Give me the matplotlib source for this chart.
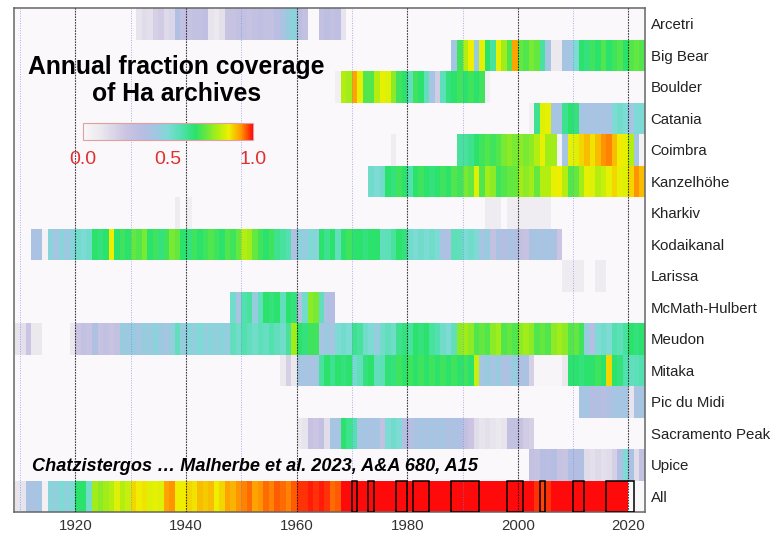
import numpy as np
import matplotlib
matplotlib.use("Agg")
import matplotlib.pyplot as plt
from matplotlib.colors import LinearSegmentedColormap
from matplotlib.patches import Rectangle

# ---- data: annual fraction coverage, each row given as (start year, values) segments
stations = ["Arcetri", "Big Bear", "Boulder", "Catania", "Coimbra", "Kanzelhöhe",
            "Kharkiv", "Kodaikanal", "Larissa", "McMath-Hulbert", "Meudon", "Mitaka",
            "Pic du Midi", "Sacramento Peak", "Upice", "All"]

arcetri = [(1931, [.12, .15, .14, .2, .22, .16, .18, .38, .3, .28, .3, .3, .32, .12, .1, .14,
                   .26, .28, .3, .3, .28, .3, .32, .3, .3, .34, .4, .45, .48, .34, .3, 0, 0,
                   .3, .33, .3, .32, .12])]
big_bear = [(1988, [.42, .68, .8, .86, .45, .85, .66, .6, .85, .78, .7, .92, .72, .7, .74, .72,
                    .6, .42, .1, .1, .42, .42, .5, .66, .64, .68, .66, .7, .66, .68, .7, .66,
                    .7, .72, .7])]
boulder = [(1967, [.06, .8, .78, .92, .85, .7, .7, .8, .85, .84, .76, .68, .66, .55, .68, .66,
                   .55, .42, .22, .56, .64, .66, .68, .66, .68, .66, .68, .05])]
catania = [(2002, [.06, .62, .84, .85, .42, .42, .62, .66, .64, .42, .42, .4, .42, .4, .42, .5,
                   .52, .5, .42, .5, .5])]
coimbra = [(1977, [.07]),
           (1989, [.6, .6, .62, .66, .68, .7, .68, .7, .74, .76, .74, .76, .74, .76, .8, .85,
                   .78, .78, .04, .42, .85, .84, .88, .9, .87, .9, .93, .94, .9, .86, .85, .8,
                   .42, .04])]
kanzelhoehe = [(1973, [.52, .5, .52, .66, .64, .68, .66, .58, .66, .68, .66, .64, .66, .68, .66,
                       .7, .68, .74, .72, .84, .7, .78, .76, .68, .7, .72, .72, .78, .76, .78,
                       .72, .8, .8, .85, .86, .8, .7, .72, .78, .85, .84, .8, .82, .85, .88,
                       .85, .84, .88, .93, .9])]
kharkiv = [(1938, [.08, 0, .06]),
           (1994, [.08, .08, .08, 0, .07, .07, .07, .07, .07, .07, .07, .07])]
kodaikanal = [(1912, [.4, .4, .04, .48, .42, .48, .44, .48, .52, .5, .52, .66, .64, .66, .86,
                      .66, .68, .66, .72, .7, .74, .66, .68, .64, .68, .74, .72, .66, .64, .68,
                      .66, .68, .7, .68, .66, .7, .68, .72, .8, .78, .72, .68, .66, .68, .62,
                      .6, .58, .38, .48, .45, .5, .48, .66, .62, .66, .55, .66, .68, .66, .66,
                      .64, .66, .66, .55, .56, .6, .66, .64, .52, .5, .52, .5, .52, .5, .4,
                      .38, .56, .55, .5, .52, .5, .42, .45, .3, .4, .36, .4, .38, .3, .28, .4,
                      .42, .4, .42, .4, .25])]
larissa = [(2008, [.08, .08, .08, .08, 0, 0, .08, .08])]
mcmath = [(1948, [.52, .4, .58, .6, .45, .55, .66, .64, .66, .55, .66, .64, .35, .52, .76, .74,
                  .55, .38, .36])]
meudon = [(1909, [.12, .14, .25, .1, .1, 0, 0, 0, 0, 0, .1, .25, .3, .28, .38, .28, .3, .26, .3,
                  .45, .44, .45, .42, .46, .44, .48, .44, .42, .46, .55, .45, .48, .46, .5, .46,
                  .48, .46, .48, .45, .55, .52, .58, .55, .52, .56, .54, .58, .55, .52, .6, .78,
                  .66, .64, .68, .68, .42, .44, .42, .5, .52, .5, .62, .6, .52, .5, .45, .52,
                  .55, .52, .62, .64, .6, .66, .64, .66, .6, .58, .52, .5, .55, .76, .78, .76,
                  .7, .72, .7, .76, .78, .7, .72, .7, .76, .78, .76, .7, .72, .7, .76, .78,
                  .76, .7, .72, .68, .45, .35, .5, .52, .5, .58, .56, .6, .66, .64, .66])]
mitaka = [(1957, [.1, .2, .1, .42, .42, .4, .42, .6, .66, .62, .66, .64, .66, .52, .55, .64, .66,
                  .55, .56, .65, .64, .68, .66, .68, .66, .68, .66, .68, .66, .68, .66, .68,
                  .66, .68, .66, .82, .42, .45, .42, .45, .38, .42, .45, .38, .4, .2, .02, .02,
                  .02, .02, .02, .1, .66, .66, .64, .66, .66, .68, .66, .88, .66, .64, .58,
                  .55, .56, .58])]
pic_du_midi = [(2011, [.42, .42, .36, .38, .35, .38, .42, .42, .42, .12, .4, .42])]
sac_peak = [(1960, [.1, .12, .28, .25, .3, .15, .42, .42, .66, .62, .58, .42, .42, .4, .42, .3,
                    .5, .52, .5, .36, .35, .4, .42, .4, .42, .4, .42, .38, .4, .38, .3, .25,
                    .15, .12, .14, .12, .1, .12, .3, .3, .28, .22, .2])]
upice = [(2002, [.3, .28, .35, .34, .36, .28, .26, .38, .36, .38, .15, .14, .16, .14, .15, .2,
                 .38, .5, .4, .15, .3])]
all_obs = [(1909, [.12, .12, .4, .4, .42, .05, .48, .46, .5, .47, .5, .66, .66, .52, .78, .76,
                   .78, .8, .84, .8, .82, .88, .86, .87, .84, .85, .84, .92, .93, .86, .86,
                   .88, .87, .9, .89, .9, .86, .88, .92, .91, .93, .94, .95, .92, .93, .95,
                   .94, .96, .95, .94, .96, .98, .98, .99, .98, .99, .98, .95, .96, 1, 1, 1,
                   1, 1, 1, 1, 1, 1, 1, 1, 1, 1, 1, 1, 1, 1, 1, 1, 1, 1, 1, 1, 1, 1, 1, 1, 1,
                   1, 1, 1, 1, 1, 1, 1, .98, .97, .98, 1, 1, 1, 1, 1, 1, 1, 1, 1, 1, 1, 1, 1,
                   1])]

rows = [arcetri, big_bear, boulder, catania, coimbra, kanzelhoehe, kharkiv, kodaikanal,
        larissa, mcmath, meudon, mitaka, pic_du_midi, sac_peak, upice, all_obs]

# periods outlined in the "All" row (start, end)
full_periods = [(1970, 1971), (1973, 1974), (1978, 1980), (1981, 1984), (1988, 1993),
                (1998, 2001), (2004, 2005), (2010, 2012), (2016, 2021)]

first_year, last_year = 1909, 2022
years = np.arange(first_year, last_year + 2)
grid = np.zeros((len(stations), len(years) - 1))
for i, segs in enumerate(rows):
    for start, vals in segs:
        j = start - first_year
        grid[i, j:j + len(vals)] = vals

cmap = LinearSegmentedColormap.from_list("cov", list(zip(
    [0.0, 0.1, 0.25, 0.35, 0.43, 0.5, 0.58, 0.66, 0.72, 0.79, 0.86, 0.93, 1.0],
    ['#fbf8fb', '#ebe8ee', '#cbc4e2', '#b8bde2', '#a2c6e2', '#7edad6', '#52e0ae',
     '#2ae26c', '#62e840', '#aaee14', '#eef000', '#ff9a00', '#ff0a0a'])))

plt.rcParams['font.family'] = ['Liberation Sans', 'DejaVu Sans']

fig = plt.figure(figsize=(7.79, 5.36), dpi=100)
ax = fig.add_axes([14/779, 24/536, 631/779, 504/536])

mesh = ax.pcolormesh(years, np.arange(len(stations) + 1), grid, cmap=cmap, vmin=0, vmax=1)
ax.set_xlim(1908.9, 2023.0)
ax.set_ylim(len(stations), 0)

for y in range(1920, 2021, 20):
    ax.axvline(y, color='k', lw=0.8, ls=(0, (1.5, 1)), alpha=0.75, zorder=3)
for y in range(1910, 2011, 20):
    ax.axvline(y, color='#7080e0', lw=0.7, ls=(0, (1, 1.5)), alpha=0.6, zorder=3)

for a, b in full_periods:
    ax.add_patch(Rectangle((a, 15), b - a, 1, fill=False, ec='k', lw=1.1, zorder=4))

ax.yaxis.tick_right()
ax.set_yticks(np.arange(len(stations)) + 0.5)
ax.set_yticklabels(stations, fontsize=10.8, color='#222222')
ax.set_xticks(np.arange(1920, 2021, 20))
ax.tick_params(axis='y', length=0, pad=4)
ax.tick_params(axis='x', length=0, pad=5, labelsize=10.8, labelcolor='#333333')
for s in ax.spines.values():
    s.set_color('#666666')
    s.set_linewidth(1.1)

ax.text(1938.3, 2.095, "Annual fraction coverage", fontsize=17.8, fontweight='bold',
        ha='center', va='baseline', zorder=5)
ax.text(1938.3, 2.943, "of Ha archives", fontsize=17.8, fontweight='bold',
        ha='center', va='baseline', zorder=5)
ax.text(1912.2, 14.69, "Chatzistergos … Malherbe et al. 2023, A&A 680, A15", fontsize=13.1,
        fontweight='bold', fontstyle='italic', ha='left', va='baseline', zorder=5)

cax = fig.add_axes([83/779, (536 - 140)/536, 170/779, 17/536])
cb = fig.colorbar(mesh, cax=cax, orientation='horizontal', ticks=[0, 0.5, 1])
cb.ax.set_xticklabels(["0.0", "0.5", "1.0"])
cb.ax.tick_params(length=0, pad=8, labelsize=14, labelcolor='#e03030')
cb.outline.set_edgecolor('#e0a0a0')
cb.outline.set_linewidth(0.8)

fig.savefig("out.png", dpi=100)
